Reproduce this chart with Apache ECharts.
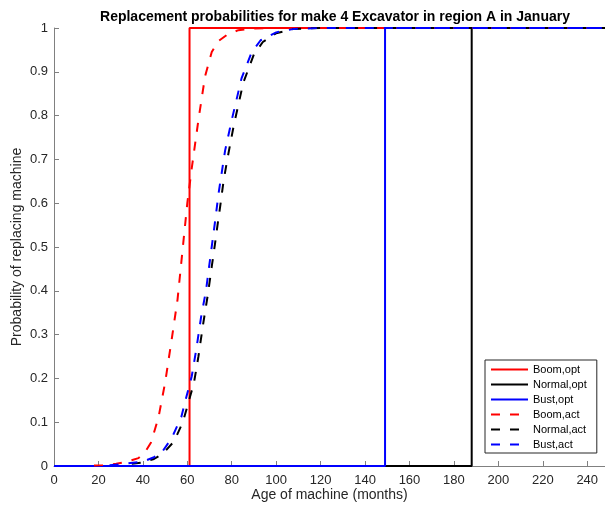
<!DOCTYPE html>
<html>
<head>
<meta charset="utf-8">
<script src="https://cdn.jsdelivr.net/npm/echarts@6/dist/echarts.min.js"></script>
<style>
  html, body { margin: 0; padding: 0; background: #fff; }
  #chart { width: 605px; height: 510px; }
</style>
</head>
<body>
<div id="chart"></div>
<script>
// Optimal policy: replace (probability 1) from the switch age onward
const boomOpt   = [[0, 0], [61, 0], [61, 1], [248, 1]];
const normalOpt = [[0, 0], [188, 0], [188, 1], [248, 1]];
const bustOpt   = [[0, 0], [149, 0], [149, 1], [248, 1]];

// Observed (actual) replacement probabilities by age in months
const boomAct = [
  [18, 0.001], [22, 0.002], [28, 0.005], [33, 0.010], [38, 0.018], [41, 0.032],
  [43.6, 0.053], [47, 0.11], [50, 0.19], [53, 0.29], [55.6, 0.38], [58, 0.50],
  [60, 0.60], [62, 0.68], [65, 0.79], [68, 0.89], [71, 0.945], [74, 0.97],
  [78, 0.985], [83, 0.995], [90, 0.999], [100, 1], [248, 1]
];
const normalAct = [
  [35, 0.005], [40, 0.008], [45, 0.016], [49, 0.028], [54, 0.056], [58, 0.10],
  [60.5, 0.145], [63, 0.19], [65, 0.25], [67, 0.32], [69.2, 0.39], [71, 0.455],
  [72.4, 0.505], [73.6, 0.55], [75, 0.60], [76.3, 0.65], [78, 0.70], [81, 0.78],
  [85.2, 0.875], [90, 0.94], [94, 0.968], [100, 0.988], [108, 0.998], [120, 1], [248, 1]
];
const bustAct = [
  [25, 0.002], [30, 0.004], [40, 0.01], [45, 0.02], [48.4, 0.03], [53, 0.064],
  [57.3, 0.112], [59.6, 0.158], [62, 0.205], [64, 0.265], [66.2, 0.34], [68.4, 0.40],
  [70.2, 0.47], [71.5, 0.52], [72.8, 0.57], [74, 0.62], [75.5, 0.67], [77, 0.72],
  [80, 0.79], [84.4, 0.885], [89, 0.945], [93, 0.972], [100, 0.99], [108, 0.998],
  [120, 1], [248, 1]
];

const xTicks = { min: 0, max: 248, step: 20 };
const yTicks = { min: 0, max: 1, step: 0.1 };

const FONT = '"Liberation Sans", Arial, sans-serif';
const DASH = [9, 10];

function lineSeries(name, data, color, dashed) {
  return {
    name: name,
    type: 'line',
    data: data,
    symbol: 'none',
    clip: false,
    animation: false,
    lineStyle: { color: color, width: 2, type: dashed ? DASH : 'solid' },
    itemStyle: { color: color }
  };
}

const chart = echarts.init(document.getElementById('chart'), null, { renderer: 'canvas' });
chart.setOption({
  backgroundColor: '#fff',
  animation: false,
  title: {
    text: 'Replacement probabilities for make 4 Excavator in region A in January',
    left: 330,
    top: 5,
    textAlign: 'center',
    textStyle: { fontFamily: FONT, fontSize: 14, fontWeight: 'bold', color: '#000' }
  },
  grid: { left: 54, right: 0, top: 28, bottom: 44, containLabel: false },
  xAxis: {
    type: 'value',
    min: xTicks.min, max: xTicks.max, interval: xTicks.step,
    name: 'Age of machine (months)',
    nameLocation: 'middle',
    nameGap: 22,
    nameMoveOverlap: false,
    nameTextStyle: { fontFamily: FONT, fontSize: 14, color: '#262626' },
    axisLine: { show: true, onZero: false, lineStyle: { color: '#808080', width: 1 } },
    axisTick: { show: true, inside: true, length: 5, lineStyle: { color: '#808080' } },
    axisLabel: { fontFamily: FONT, fontSize: 13, color: '#262626', margin: 8, showMaxLabel: false },
    splitLine: { show: false }
  },
  yAxis: {
    type: 'value',
    min: yTicks.min, max: yTicks.max, interval: yTicks.step,
    name: 'Probability of replacing machine',
    nameLocation: 'middle',
    nameGap: 30,
    nameMoveOverlap: false,
    nameTextStyle: { fontFamily: FONT, fontSize: 14, color: '#262626' },
    axisLine: { show: true, onZero: false, lineStyle: { color: '#808080', width: 1 } },
    axisTick: { show: true, inside: true, length: 5, lineStyle: { color: '#808080' } },
    axisLabel: { fontFamily: FONT, fontSize: 13, color: '#262626', margin: 6 },
    splitLine: { show: false }
  },
  legend: {
    orient: 'vertical',
    left: 485,
    top: 360,
    padding: [4, 10, 3, 5],
    itemWidth: 37,
    itemHeight: 11,
    itemGap: 4,
    backgroundColor: '#fff',
    borderColor: '#262626',
    borderWidth: 1,
    borderRadius: 0,
    itemStyle: { opacity: 0 },
    textStyle: { fontFamily: FONT, fontSize: 11, color: '#000' },
    data: ['Boom,opt', 'Normal,opt', 'Bust,opt', 'Boom,act', 'Normal,act', 'Bust,act']
  },
  series: [
    lineSeries('Boom,opt', boomOpt, '#ff0000', false),
    lineSeries('Normal,opt', normalOpt, '#000000', false),
    lineSeries('Bust,opt', bustOpt, '#0000ff', false),
    lineSeries('Boom,act', boomAct, '#ff0000', true),
    lineSeries('Normal,act', normalAct, '#000000', true),
    lineSeries('Bust,act', bustAct, '#0000ff', true)
  ]
});
</script>
</body>
</html>
